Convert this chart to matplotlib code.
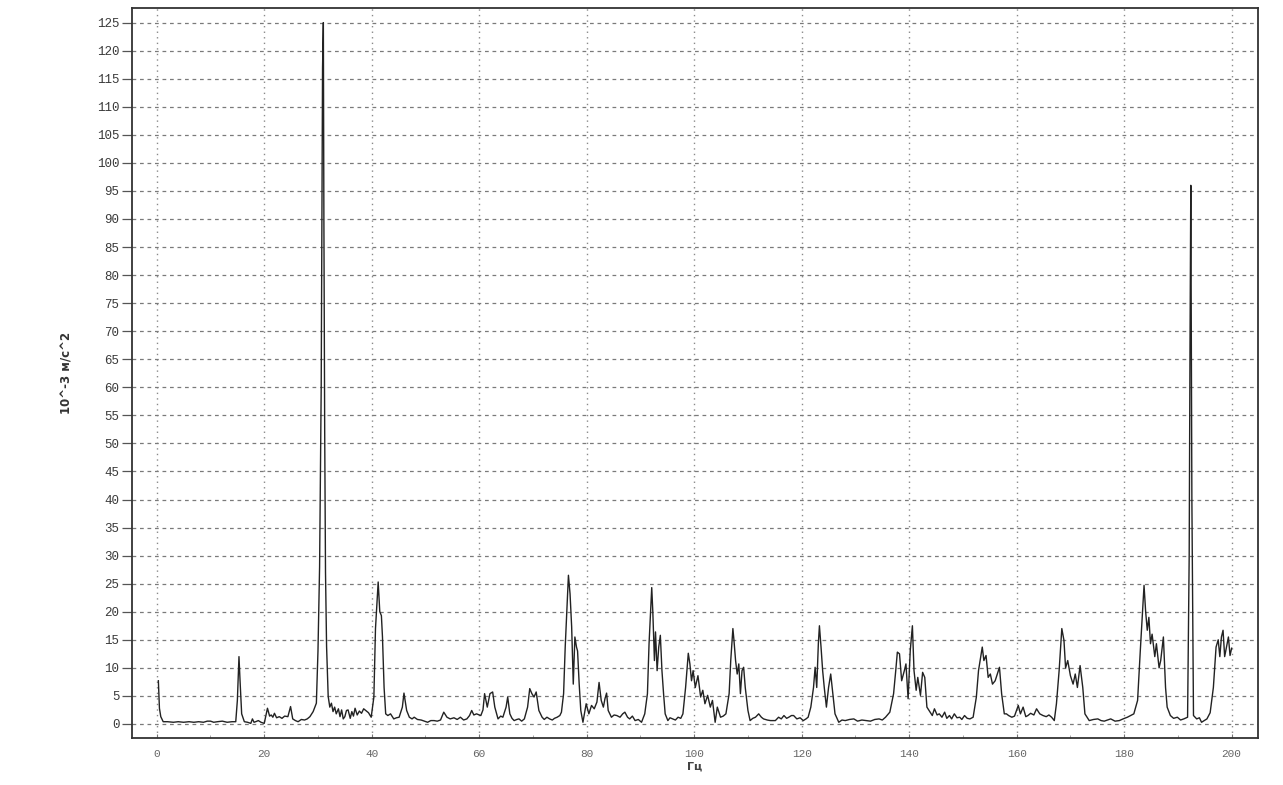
from matplotlib import pyplot as plt
import numpy as np

# спектр виброускорения, значения
freq = [0.3, 0.5, 0.75, 1.2, 2.0, 3.1, 4.0, 5.0, 6.0, 6.9, 7.8, 8.7, 9.4, 10.0, 10.6, 11.3, 12.2, 13.1, 14.0, 14.7,
        15.0, 15.3, 15.5, 15.8, 16.3, 16.9, 17.5, 17.8, 18.1, 18.4, 18.9, 19.4, 20.0, 20.6, 21.0, 21.3, 21.6, 21.9,
        22.3, 22.8, 23.3, 23.8, 24.4, 24.9, 25.3, 25.8, 26.3, 26.9, 27.5, 28.0, 28.5, 29.1, 29.7, 30.0, 30.3, 30.6,
        30.85, 31.0, 31.1, 31.25, 31.4, 31.6, 31.9, 32.2, 32.5, 32.8, 33.1, 33.4, 33.8, 34.1, 34.4, 34.7, 35.0, 35.3,
        35.6, 36.0, 36.3, 36.6, 36.9, 37.3, 37.7, 38.1, 38.5, 38.9, 39.4, 39.9, 40.4, 40.7, 41.0, 41.2, 41.5, 41.8,
        42.0, 42.3, 42.6, 43.0, 43.5, 44.1, 44.6, 45.1, 45.7, 46.0, 46.5, 47.0, 47.5, 47.9, 48.5, 49.2, 49.8, 50.4,
        51.0, 51.6, 52.2, 52.8, 53.4, 54.0, 54.6, 55.3, 55.9, 56.5, 57.1, 57.7, 58.2, 58.6, 59.0, 59.5, 60.3, 60.7,
        61.0, 61.5, 62.0, 62.5, 62.9, 63.5, 64.0, 64.4, 65.0, 65.3, 65.7, 66.1, 66.5, 67.0, 67.4, 67.9, 68.4, 69.0,
        69.4, 69.8, 70.2, 70.6, 71.1, 71.7, 72.1, 72.6, 73.1, 73.6, 74.0, 74.5, 75.0, 75.3, 75.7, 76.0, 76.3, 76.6,
        76.9, 77.2, 77.5, 77.8, 78.1, 78.3, 78.6, 78.9, 79.3, 79.9, 80.4, 80.9, 81.4, 81.9, 82.3, 82.7, 83.1, 83.4,
        83.7, 84.0, 84.6, 85.1, 85.6, 86.2, 86.7, 87.1, 87.6, 88.0, 88.5, 89.0, 89.6, 90.2, 90.8, 91.3, 91.6, 92.1,
        92.3, 92.6, 92.8, 93.1, 93.4, 93.7, 94.0, 94.3, 94.6, 95.1, 95.5, 96.0, 96.5, 97.0, 97.5, 97.9, 98.4, 98.9,
        99.2, 99.5, 99.8, 100.2, 100.7, 101.2, 101.6, 102.0, 102.5, 103.0, 103.4, 103.9, 104.3, 104.9, 105.4, 105.9,
        106.5, 106.8, 107.2, 107.4, 107.7, 108.0, 108.3, 108.6, 108.9, 109.2, 109.5, 110.0, 110.4, 110.9, 111.4,
        112.0, 112.5, 112.9, 113.6, 114.2, 115.1, 115.7, 116.2, 116.7, 117.2, 117.6, 118.1, 118.5, 119.1, 119.7,
        120.3, 120.8, 121.2, 121.7, 122.2, 122.5, 122.8, 123.1, 123.3, 123.6, 123.9, 124.2, 124.6, 125.0, 125.4,
        125.8, 126.2, 126.9, 127.5, 128.1, 128.9, 129.7, 130.4, 131.2, 132.0, 132.8, 133.6, 134.4, 135.0, 135.6,
        136.4, 137.1, 137.5, 137.8, 138.2, 138.6, 139.1, 139.4, 139.8, 140.2, 140.6, 140.9, 141.3, 141.6, 142.1,
        142.5, 142.9, 143.3, 143.9, 144.3, 144.7, 145.2, 145.6, 146.1, 146.6, 147.0, 147.5, 147.9, 148.4, 148.9,
        149.4, 149.8, 150.3, 150.8, 151.3, 151.9, 152.5, 152.9, 153.6, 153.9, 154.3, 154.7, 155.1, 155.5, 156.0,
        156.5, 156.8, 157.2, 157.7, 158.1, 158.5, 159.1, 159.6, 160.3, 160.7, 161.2, 161.7, 162.1, 162.6, 163.2,
        163.7, 164.3, 164.9, 165.5, 166.0, 166.5, 167.0, 167.4, 167.9, 168.4, 168.8, 169.1, 169.5, 170.0, 170.5,
        170.9, 171.3, 171.8, 172.3, 172.7, 173.5, 174.3, 175.1, 175.7, 176.3, 176.9, 177.5, 178.3, 179.1, 179.8,
        180.6, 181.2, 181.8, 182.5, 183.0, 183.4, 183.7, 184.0, 184.3, 184.6, 184.9, 185.2, 185.7, 186.0, 186.5,
        186.8, 187.3, 187.7, 188.0, 188.6, 189.2, 189.9, 190.5, 191.1, 191.8, 192.1, 192.25, 192.4, 192.6, 192.9,
        193.5, 194.0, 194.4, 194.9, 195.4, 196.0, 196.6, 197.1, 197.5, 197.8, 198.1, 198.4, 198.7, 199.1, 199.4,
        199.7, 200.0]
accel = [7.7, 2.8, 1.3, 0.4, 0.4, 0.3, 0.4, 0.3, 0.4, 0.3, 0.4, 0.3, 0.5, 0.5, 0.3, 0.4, 0.5, 0.3, 0.4, 0.4,
         4.2, 12.0, 7.7, 1.8, 0.4, 0.3, 0.1, 0.9, 0.3, 0.4, 0.6, 0.3, 0.1, 2.8, 1.4, 1.6, 1.2, 1.9,
         1.1, 1.3, 1.0, 1.4, 1.3, 3.1, 0.9, 0.6, 0.4, 0.8, 0.7, 0.9, 1.3, 2.2, 3.7, 13.0, 28.0, 60.0,
         117.0, 125.0, 90.0, 52.0, 27.0, 13.8, 4.9, 3.0, 3.7, 2.2, 3.0, 1.8, 2.7, 1.3, 2.5, 0.9, 1.3, 2.4,
         2.5, 1.0, 2.2, 1.4, 2.8, 1.6, 2.3, 1.9, 2.7, 2.4, 2.0, 1.2, 4.8, 17.0, 22.0, 25.3, 20.0, 19.3,
         15.5, 6.5, 1.8, 1.5, 1.8, 0.9, 1.1, 1.2, 3.0, 5.5, 2.4, 1.2, 0.9, 1.2, 0.8, 0.7, 0.5, 0.3,
         0.6, 0.6, 0.5, 0.7, 2.1, 1.2, 0.9, 1.1, 0.8, 1.2, 0.7, 0.9, 1.5, 2.4, 1.6, 1.8, 1.5, 2.5,
         5.4, 3.0, 5.4, 5.7, 3.0, 0.9, 1.4, 1.2, 3.0, 4.8, 1.8, 1.0, 0.6, 0.8, 0.9, 0.5, 0.9, 3.0,
         6.3, 5.4, 4.8, 5.7, 2.4, 1.2, 0.8, 1.2, 0.9, 0.7, 1.0, 1.2, 1.5, 2.1, 5.4, 13.7, 20.0, 26.5,
         23.2, 17.3, 7.1, 15.5, 13.7, 13.0, 7.1, 2.4, 0.3, 3.6, 1.8, 3.3, 2.7, 3.9, 7.4, 4.2, 3.0, 4.5,
         5.5, 2.4, 1.2, 1.6, 1.5, 1.2, 1.8, 2.1, 1.2, 0.9, 1.4, 0.6, 0.8, 0.3, 1.8, 5.4, 14.3, 24.3,
         20.0, 11.3, 16.4, 9.5, 13.7, 15.8, 9.5, 5.4, 1.8, 0.6, 1.1, 0.9, 0.7, 1.2, 1.0, 1.8, 6.5, 12.6,
         10.7, 7.7, 9.5, 6.5, 8.6, 4.8, 6.0, 3.6, 5.1, 3.0, 4.2, 0.3, 3.0, 1.2, 1.4, 1.8,
         5.4, 11.3, 17.0, 14.9, 11.3, 8.9, 10.7, 5.4, 9.5, 10.1, 6.5, 2.4, 0.6, 1.0, 1.2,
         1.8, 1.2, 0.9, 0.7, 0.6, 0.6, 1.2, 0.9, 1.5, 1.0, 1.2, 1.5, 1.5, 0.9, 1.1,
         0.6, 0.9, 1.2, 3.0, 6.5, 10.1, 6.5, 14.3, 17.5, 13.7, 9.5, 6.5, 3.0, 6.5, 8.9,
         5.4, 1.8, 0.3, 0.7, 0.6, 0.8, 0.9, 0.5, 0.7, 0.6, 0.5, 0.8, 0.9, 0.7, 1.2,
         2.1, 5.4, 9.5, 12.8, 12.5, 7.7, 9.5, 10.7, 4.5, 13.1, 17.5, 9.5, 6.0, 8.3, 5.1,
         9.2, 8.3, 3.0, 2.1, 1.5, 2.7, 1.6, 1.8, 1.2, 2.1, 1.0, 1.5, 0.9, 1.8, 1.1,
         1.2, 0.8, 1.5, 1.0, 0.9, 1.2, 4.8, 9.5, 13.7, 11.3, 12.2, 8.3, 8.9, 7.1, 7.7,
         9.2, 10.1, 5.4, 1.8, 1.8, 1.5, 1.2, 1.4, 3.3, 1.8, 3.0, 1.3, 1.5, 1.9, 1.6,
         2.7, 1.8, 1.5, 1.3, 1.6, 1.2, 0.6, 3.6, 9.5, 17.0, 14.9, 10.0, 11.3, 8.6, 7.1,
         8.9, 6.5, 10.4, 6.5, 1.8, 0.6, 0.8, 0.9, 0.6, 0.5, 0.7, 0.9, 0.5, 0.6, 0.9,
         1.2, 1.5, 1.8, 4.2, 13.0, 19.6, 24.7, 20.0, 16.7, 19.0, 14.3, 16.0, 12.0, 14.3, 10.0,
         11.3, 15.5, 6.5, 3.0, 1.5, 1.0, 1.2, 0.7, 0.9, 1.2, 30.0, 67.0, 96.0, 40.0, 1.5,
         0.9, 1.1, 0.3, 0.6, 0.9, 2.0, 6.5, 13.7, 15.0, 12.0, 15.5, 16.7, 12.0, 14.0, 15.5,
         12.2, 13.5]

x_ticks = list(range(0, 201, 20))
y_ticks = list(range(0, 126, 5))

fig = plt.figure(figsize=(12.83, 7.85), dpi=100)
ax = fig.add_axes([0.1029, 0.0599, 0.8776, 0.9299])

ax.plot(freq, accel, color='#222222', linewidth=1.0)

ax.set_xlim(-4.6, 204.9)
ax.set_ylim(-2.5, 127.6)
ax.set_xticks(x_ticks)
ax.set_yticks(y_ticks)
ax.set_xticks(np.arange(10, 200, 20), minor=True)

ax.grid(axis='x', which='major', linestyle=(0, (1, 3)), color='#8a8a8a', linewidth=1.0)
ax.grid(axis='y', which='major', linestyle=(0, (3, 3)), color='#7a7a7a', linewidth=0.9)

ax.tick_params(axis='y', direction='out', length=7, width=0.9, color='#555555',
               labelsize=9, labelcolor='#3a3a3a', pad=2)
ax.tick_params(axis='x', which='major', direction='in', length=3, color='#777777',
               labelsize=8, labelcolor='#666666', pad=8)
ax.tick_params(axis='x', which='minor', direction='in', length=2, color='#999999')
for lab in ax.get_xticklabels() + ax.get_yticklabels():
    lab.set_family('Liberation Mono')

for s in ax.spines.values():
    s.set_color('#333333')
    s.set_linewidth(1.3)

ax.set_xlabel('Гц', fontsize=8, fontweight='bold', color='#444444', labelpad=2)
ax.set_ylabel('10^-3 м/с^2', fontsize=8.5, fontweight='bold', color='#333333', labelpad=17)

plt.savefig('out.png', dpi=100)
plt.close('all')
